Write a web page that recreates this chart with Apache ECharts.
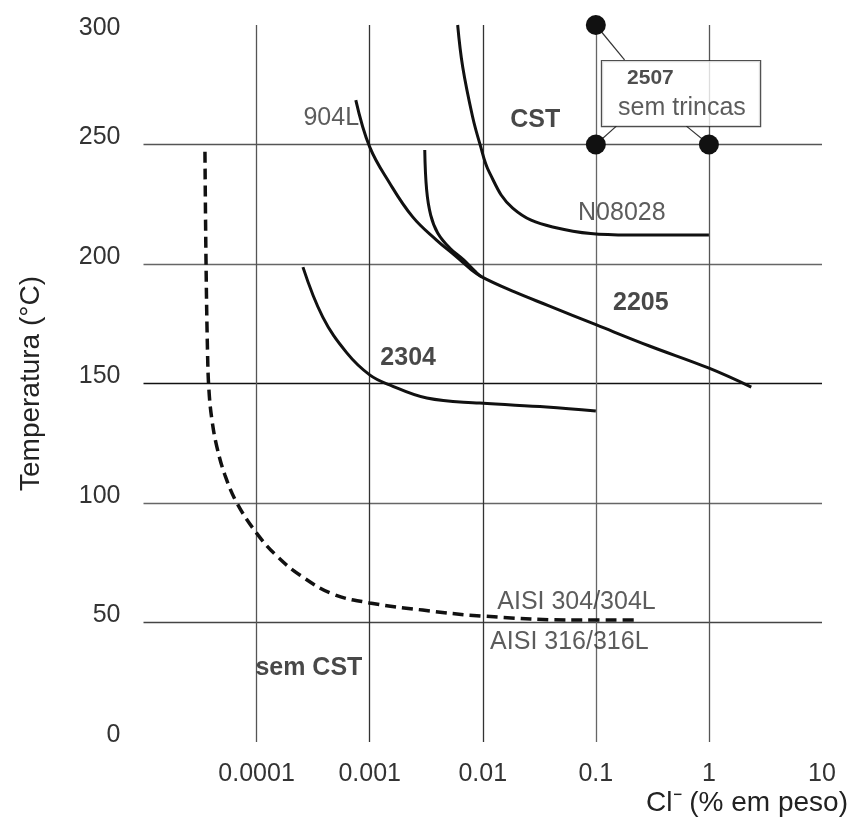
<!DOCTYPE html>
<html>
<head>
<meta charset="utf-8">
<script src="https://cdn.jsdelivr.net/npm/echarts@6/dist/echarts.min.js"></script>
<style>
html, body { margin: 0; padding: 0; background: #fff; }
#chart { width: 855px; height: 817px; }
</style>
</head>
<body>
<div id="chart"></div>
<script>
// eixos
var xTickLabels = ['', '0.0001', '0.001', '0.01', '0.1', '1', '10'];
var yTickLabels = ['0', '50', '100', '150', '200', '250', '300'];

// curvas: Cl- (% em peso) x temperatura (C)
var cl_904L = [0.000754, 0.001, 0.0015, 0.0024, 0.0039, 0.00576, 0.00798, 0.0098];
var t_904L  = [268.6, 249, 233.9, 219.7, 210, 203.3, 197.5, 194.6];

var cl_2205 = [0.00307, 0.00319, 0.003465, 0.003995, 0.0051, 0.00678, 0.00848, 0.0098, 0.0191, 0.039, 0.1015, 0.298, 0.99, 2.37];
var t_2205  = [247.7, 231, 220.5, 213, 206.7, 201.7, 197.1, 194.6, 188.3, 182.4, 174.5, 165.7, 156.5, 148.5];

var cl_N08028 = [0.0060, 0.00665, 0.00814, 0.00939, 0.0115, 0.0184, 0.0415, 0.199, 1.0];
var t_N08028  = [300, 282.4, 261.5, 250.6, 238.1, 223.4, 215.5, 212.1, 212.1];

var cl_2304 = [0.000257, 0.000385, 0.000628, 0.001, 0.0015, 0.0032, 0.0094, 0.0367, 0.1];
var t_2304  = [198.7, 177.8, 162.8, 153.6, 149.4, 143.9, 141.8, 140.2, 138.5];

var cl_AISI = [0.00003495, 0.0000357, 0.0000368, 0.0000379, 0.0000403, 0.0000446, 0.0000525, 0.000067, 0.0001, 0.000151, 0.000241, 0.000472, 0.001, 0.00294, 0.0098, 0.0718, 0.2335];
var t_AISI  = [247, 201.7, 164, 147.3, 134.7, 123.4, 111.7, 100, 87.4, 77.8, 69.9, 61.9, 58.2, 55.2, 52.7, 51, 51];

// 2507 sem trincas
var cl_2507 = [0.1, 0.1, 1];
var t_2507  = [300, 250, 250];

var FONT = '"Liberation Sans", Arial, sans-serif';

function zip(xs, ys) {
    return xs.map(function (x, i) { return [x, ys[i]]; });
}

function curve(name, xs, ys, dashed) {
    return {
        name: name,
        type: 'line',
        data: zip(xs, ys),
        smooth: 0.4,
        symbol: 'none',
        silent: true,
        z: 3,
        lineStyle: {
            color: '#111',
            width: dashed ? 3.5 : 3,
            type: dashed ? [11, 6] : 'solid'
        }
    };
}

function leader(p1, p2) {
    return {
        type: 'line',
        data: [p1, p2],
        symbol: 'none',
        silent: true,
        z: 2,
        lineStyle: { color: '#333', width: 1.2 }
    };
}

// textos no grafico: [x, T, texto, negrito]
var notes = [
    [0.000257, 260.9, '904L', false],
    [0.0173, 260.3, 'CST', true],
    [0.0689, 221.3, 'N08028', false],
    [0.1405, 183.7, '2205', true],
    [0.00123, 160.7, '2304', true],
    [0.0000966, 31.0, 'sem CST', true],
    [0.0133, 58.6, 'AISI 304/304L', false],
    [0.0115, 41.8, 'AISI 316/316L', false]
];

var chart = echarts.init(document.getElementById('chart'));

var option = {
    animation: false,
    backgroundColor: '#fff',
    textStyle: { fontFamily: FONT },
    title: {
        text: 'Cl\u207B (% em peso)',
        right: 7,
        top: 789,
        padding: 0,
        textStyle: { fontFamily: FONT, fontSize: 28, fontWeight: 'normal', color: '#222' }
    },
    grid: { left: 143.5, right: 33, top: 25, bottom: 75 },
    xAxis: {
        type: 'log',
        logBase: 10,
        min: 0.00001,
        max: 10,
        axisLine: { show: false },
        axisTick: { show: false },
        axisLabel: {
            margin: 20,
            fontSize: 25,
            color: '#333',
            fontFamily: FONT,
            formatter: function (v) {
                return xTickLabels[Math.round(Math.log10(v)) + 5] || '';
            }
        },
        splitLine: {
            show: true,
            lineStyle: {
                width: 1.3,
                color: ['rgba(0,0,0,0)', '#555', '#333', '#333', '#666', '#555', 'rgba(0,0,0,0)']
            }
        }
    },
    yAxis: {
        type: 'value',
        min: 0,
        max: 300,
        interval: 50,
        name: 'Temperatura (\u00B0C)',
        nameLocation: 'middle',
        nameGap: 98,
        nameTextStyle: { fontFamily: FONT, fontSize: 28, color: '#222' },
        axisLine: { show: false },
        axisTick: { show: false },
        axisLabel: {
            margin: 23,
            fontFamily: FONT,
            formatter: function (v) {
                var s = yTickLabels[Math.round(v / 50)];
                return v === 300 ? '{t|' + s + '}' : '{n|' + s + '}';
            },
            rich: {
                n: { fontSize: 25, color: '#333', fontFamily: FONT, padding: [0, 0, 14, 0] },
                t: { fontSize: 25, color: '#333', fontFamily: FONT, padding: [6, 0, 0, 0] }
            }
        },
        splitLine: {
            show: true,
            lineStyle: {
                width: 1.3,
                color: ['rgba(0,0,0,0)', '#444', '#666', '#111', '#666', '#555', 'rgba(0,0,0,0)']
            }
        }
    },
    series: [
        curve('904L', cl_904L, t_904L),
        curve('2205', cl_2205, t_2205),
        curve('N08028', cl_N08028, t_N08028),
        curve('2304', cl_2304, t_2304),
        curve('AISI', cl_AISI, t_AISI, true),
        leader([0.1, 300], [0.1795, 285.4]),
        leader([0.1, 250], [0.152, 257.7]),
        leader([1, 250], [0.632, 257.7]),
        {
            name: '2507',
            type: 'scatter',
            data: zip(cl_2507, t_2507),
            symbol: 'circle',
            symbolSize: 20,
            silent: true,
            z: 4,
            itemStyle: { color: '#111', opacity: 1 }
        },
        {
            type: 'scatter',
            data: [[0.1123, 271.3]],
            symbolSize: 1,
            silent: true,
            z: 6,
            itemStyle: { color: 'rgba(0,0,0,0)' },
            label: {
                show: true,
                position: 'right',
                distance: 0,
                formatter: '{a|2507}\n{b|sem trincas}',
                backgroundColor: '#fff',
                borderColor: '#222',
                borderWidth: 1.2,
                padding: [2, 8, 3, 16],
                width: 134,
                rich: {
                    a: { fontFamily: FONT, fontSize: 21, fontWeight: 'bold', color: '#222', lineHeight: 30, padding: [0, 0, 0, 9] },
                    b: { fontFamily: FONT, fontSize: 25, color: '#333', lineHeight: 30 }
                }
            }
        },
        {
            type: 'scatter',
            symbolSize: 1,
            silent: true,
            z: 5,
            itemStyle: { color: 'rgba(0,0,0,0)' },
            data: notes.map(function (n) {
                return {
                    value: [n[0], n[1]],
                    label: {
                        show: true,
                        position: 'right',
                        distance: 0,
                        formatter: n[2],
                        fontFamily: FONT,
                        fontSize: 25,
                        fontWeight: n[3] ? 'bold' : 'normal',
                        color: n[3] ? '#1a1a1a' : '#333'
                    }
                };
            })
        }
    ]
};

chart.setOption(option);
</script>
</body>
</html>
